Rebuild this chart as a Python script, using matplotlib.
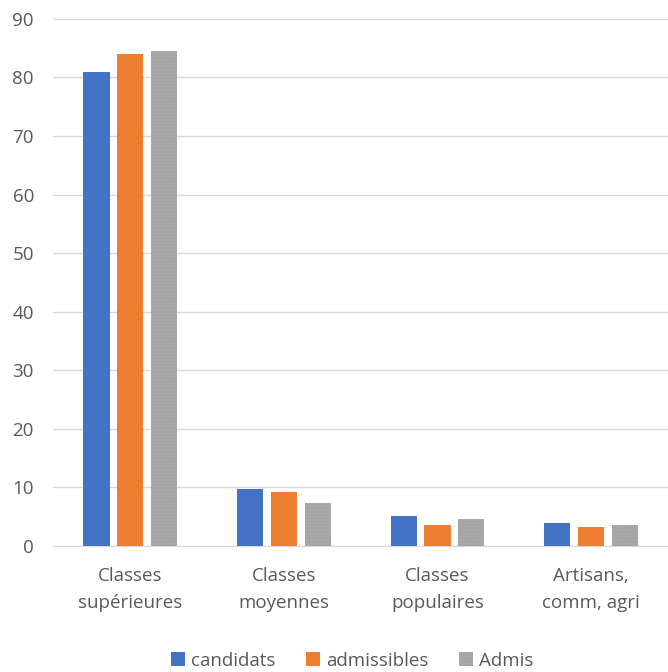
import numpy as np
import matplotlib
matplotlib.use('Agg')
import matplotlib.pyplot as plt

# Data
categories = ['Classes\nsupérieures', 'Classes\nmoyennes', 'Classes\npopulaires', 'Artisans,\ncomm, agri']
candidats = [80.9, 9.7, 5.2, 3.9]
admissibles = [84.0, 9.3, 3.5, 3.2]
admis = [84.5, 7.3, 4.6, 3.5]
series_names = ['candidats', 'admissibles', 'Admis']

BLUE = '#4472C4'
ORANGE = '#ED7D31'
GRAY = '#A5A5A5'
TEXT = '#595959'
FS = 13.5

plt.rcParams['font.family'] = ['Open Sans', 'DejaVu Sans']
plt.rcParams['hatch.color'] = '#8C8C8C'
plt.rcParams['hatch.linewidth'] = 0.6

fig = plt.figure(figsize=(6.68, 6.72), dpi=100)
ax = fig.add_axes([0.08, 0.1875, 0.92, 0.7845])

x = np.arange(len(categories))
w = 0.17
step = 0.22
ax.bar(x - step, candidats, w, color=BLUE, label=series_names[0], zorder=3)
ax.bar(x, admissibles, w, color=ORANGE, label=series_names[1], zorder=3)
ax.bar(x + step, admis, w, color=GRAY, hatch='.....', edgecolor='#B0B0B0',
       linewidth=0, label=series_names[2], zorder=3)

ax.set_xlim(-0.5, len(categories) - 0.5)
ax.set_ylim(0, 90)
ax.set_yticks(np.arange(0, 91, 10))
ax.grid(axis='y', color='#D9D9D9', lw=1, zorder=0)
for s in ['top', 'right', 'left']:
    ax.spines[s].set_visible(False)
ax.spines['bottom'].set_color('#D9D9D9')
ax.set_xticks(x)
ax.set_xticklabels(categories, fontsize=FS, color=TEXT, linespacing=1.65)
ax.tick_params(axis='both', length=0, labelsize=FS, labelcolor=TEXT)
ax.tick_params(axis='x', pad=15)
ax.tick_params(axis='y', pad=14)

fig.legend(loc='center', bbox_to_anchor=(0.527, 0.017), ncol=3, frameon=False,
           fontsize=FS, labelcolor=TEXT, handlelength=0.75, handleheight=0.75,
           handletextpad=0.35, columnspacing=1.6)

fig.savefig('out.png', dpi=100)
